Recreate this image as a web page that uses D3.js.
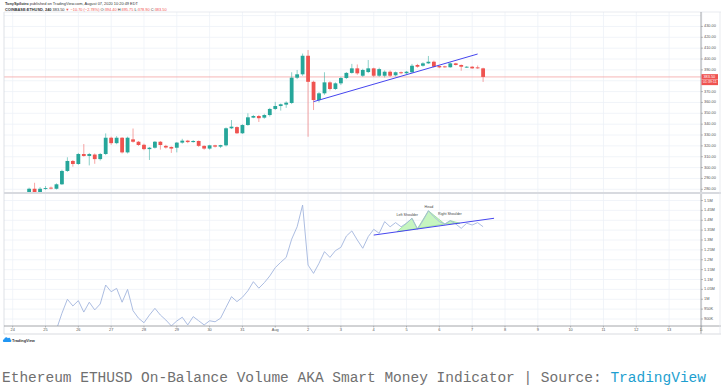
<!DOCTYPE html>
<html>
<head>
<meta charset="utf-8">
<script src="https://cdn.jsdelivr.net/npm/d3@7"></script>
<style>
body { margin: 0; background: #fff; }
svg { display: block; font-family: "Liberation Sans", Arial, sans-serif; }
</style>
</head>
<body>
<div id="chart"></div>
<script>
// 4h candles, COINBASE:ETHUSD, first bar Jul 24 12:00
var opens  = [277.5,280.5,277.5,280.5,281.5,280.5,284.6,296.9,306.1,303.3,312.5,310.7,312.0,307.8,312.5,327.5,322.5,327.5,314.0,326.0,
              323.8,321.0,317.0,318.3,323.8,320.0,319.0,318.3,323.0,324.8,323.5,324.5,320.0,317.5,320.5,319.3,320.5,336.2,337.3,331.6,
              339.2,346.0,347.5,346.0,348.4,354.0,356.7,358.0,359.5,382.8,385.9,403.0,379.0,362.2,368.4,378.5,372.4,377.6,382.5,387.2,
              391.4,384.6,388.0,391.4,384.6,384.6,388.3,385.0,387.8,386.9,387.8,394.5,393.8,396.0,397.5,393.5,393.2,392.4,396.0,394.5,
              392.4,392.9,392.3,391.4];
var highs  = [281.5,286.0,282.0,283.0,282.5,285.5,298.0,309.5,307.0,313.5,321.7,313.5,313.0,313.5,331.5,328.5,329.0,328.0,328.5,336.0,
              324.5,322.0,319.0,324.5,324.5,321.0,319.5,323.5,326.5,325.5,325.3,325.0,320.5,321.0,321.0,321.0,337.0,343.8,338.0,340.0,
              350.0,348.5,348.5,349.5,355.0,360.5,359.0,361.0,387.8,389.9,405.0,408.3,380.0,369.5,387.8,379.5,378.5,383.5,388.0,395.5,
              395.0,391.0,399.1,392.0,392.0,389.5,389.5,388.5,388.5,389.0,395.5,395.5,397.0,402.8,398.5,394.0,393.8,396.8,396.5,395.0,
              393.5,393.5,394.0,392.0];
var lows   = [276.5,277.0,277.0,279.5,280.0,279.8,284.0,296.0,300.8,302.5,310.0,302.0,303.5,306.5,311.5,321.0,321.5,313.0,313.0,323.0,
              320.0,316.0,307.0,317.5,316.5,317.5,313.5,314.0,322.0,322.5,323.0,319.0,316.5,316.5,318.5,318.0,319.5,335.5,331.0,331.0,
              338.5,345.5,342.0,345.0,347.0,353.0,352.5,355.0,358.5,381.5,384.5,328.4,353.0,360.0,367.0,371.0,371.5,376.0,381.5,386.5,
              385.5,383.5,387.0,383.5,383.5,383.0,383.5,384.0,386.0,386.0,387.0,392.0,393.0,395.5,392.0,391.5,392.0,392.0,394.0,389.2,
              391.8,391.0,391.0,378.9];
var closes = [280.5,277.5,280.5,281.2,281.0,284.6,296.9,306.1,303.3,312.5,310.7,312.5,307.8,312.5,327.5,322.5,327.5,314.0,327.5,323.8,
              320.8,317.0,318.3,323.8,320.8,318.5,317.5,323.0,324.8,323.5,324.5,320.0,317.5,320.5,319.3,320.7,336.2,337.7,331.6,339.2,
              346.3,347.5,345.5,348.4,354.0,356.7,358.3,359.8,382.8,385.9,403.0,379.0,362.2,368.4,378.5,372.4,377.6,382.5,387.2,391.4,
              386.8,389.9,391.4,384.6,390.7,388.3,384.6,387.8,386.9,388.3,393.8,392.9,396.0,397.5,392.9,392.3,392.6,396.0,394.5,392.9,
              392.9,391.4,391.4,383.5];
// On-Balance Volume, thousands
var obv    = [800,760,790,805,780,847,929,1000,966,993,935,985,946,976,1072,1038,1055,985,1050,942,
              904,881,920,954,920,895,865,890,909,870,912,891,870,891,886,904,959,1013,988,1010,
              1043,1089,1056,1084,1118,1160,1187,1212,1304,1367,1477,1173,1131,1182,1241,1212,1246,1263,1320,1346,
              1300,1258,1317,1354,1334,1393,1367,1388,1367,1385,1410,1354,1398,1448,1418,1393,1381,1398,1381,1359,
              1385,1376,1388,1367];

var dayLabels  = ["24","25","26","27","28","29","30","31","Aug","2","3","4","5","6","7","8","9","10","11","12","13","14"];
var priceTicks = [280,290,300,310,320,330,340,350,360,370,390,400,410,420,430];
var obvTicks   = [900,950,1000,1050,1100,1150,1200,1250,1300,1350,1400,1450,1500];
var lastPrice  = 383.5;

// drawings
var priceTrend = [[Date.UTC(2020,7,2,4), 360.7], [Date.UTC(2020,7,7,4), 404.6]];
var obvTrend   = [[Date.UTC(2020,7,4,0), 1325], [Date.UTC(2020,7,7,16), 1410]];
var hsPoints   = [[Date.UTC(2020,7,4,17), 1342], [Date.UTC(2020,7,5,4), 1410], [Date.UTC(2020,7,5,8), 1358],
                  [Date.UTC(2020,7,5,16), 1448], [Date.UTC(2020,7,6,4), 1381], [Date.UTC(2020,7,6,8), 1398],
                  [Date.UTC(2020,7,6,15), 1385]];
var hsLabels   = [["Left Shoulder", Date.UTC(2020,7,5,0,30), 1425], ["Head", Date.UTC(2020,7,5,16,20), 1466],
                  ["Right Shoulder", Date.UTC(2020,7,6,7,45), 1432]];

var W = 721, H = 389;
var L = 4, R = 701, T = 12, SEP = 193, B = 326, AB = 334;

var firstBar = Date.UTC(2020, 6, 24, 12);
var bars = opens.map(function(d, i){
    return {t: new Date(firstBar + i*4*3600e3), o: d, h: highs[i], l: lows[i], c: closes[i], v: obv[i]*1000};
});
var days = dayLabels.map(function(d, i){ return new Date(Date.UTC(2020, 6, 24 + i)); });

var x = d3.scaleUtc()
    .domain([Date.UTC(2020,6,24), Date.UTC(2020,7,14)])
    .range([12.7, 701.9]);
var yP = d3.scaleLinear().domain([280, 420]).range([189.3, 37.3]);
var yV = d3.scaleLinear().domain([900000, 1500000]).range([319, 200.5]);

var svg = d3.select("#chart").append("svg")
    .attr("width", W)
    .attr("height", H);

svg.append("rect").attr("width", W).attr("height", H).attr("fill", "#fff");

var defs = svg.append("defs");
defs.append("clipPath").attr("id", "clipTop").append("rect")
    .attr("x", L).attr("y", T).attr("width", R - L).attr("height", SEP - T);
defs.append("clipPath").attr("id", "clipBot").append("rect")
    .attr("x", L).attr("y", SEP + 1).attr("width", R - L).attr("height", B - SEP - 1);
defs.append("clipPath").attr("id", "clipAxis").append("rect")
    .attr("x", L).attr("y", B).attr("width", R - L + 1.5).attr("height", AB - B);

// header
var head = svg.append("g").attr("font-size", 3.9).attr("fill", "#333");
var h1 = head.append("text").attr("x", 5).attr("y", 5);
h1.append("tspan").attr("font-weight", "bold").text("TonySpilotro");
h1.append("tspan").text(" published on TradingView.com, August 07, 2020 10:20:49 EDT");
var h2 = head.append("text").attr("x", 5).attr("y", 10.5);
h2.append("tspan").attr("font-weight", "bold").text("COINBASE:ETHUSD, 240");
h2.append("tspan").text("  383.50 ");
h2.append("tspan").attr("fill", "#ef5350").text("\u25BC \u221210.70 (\u22122.78%) ");
h2.append("tspan").text("O:");
h2.append("tspan").attr("fill", "#ef5350").text("394.40 ");
h2.append("tspan").text("H:");
h2.append("tspan").attr("fill", "#ef5350").text("395.75 ");
h2.append("tspan").text("L:");
h2.append("tspan").attr("fill", "#ef5350").text("378.90 ");
h2.append("tspan").text("C:");
h2.append("tspan").attr("fill", "#ef5350").text("383.50");

// grid
svg.append("g").selectAll("line")
    .data(days)
    .join("line")
    .attr("x1", function(d){ return x(d); })
    .attr("x2", function(d){ return x(d); })
    .attr("y1", T).attr("y2", B)
    .attr("stroke", "#eef1f7").attr("stroke-width", 0.8);

svg.append("g").attr("clip-path", "url(#clipTop)").selectAll("line")
    .data(d3.range(270, 450, 10))
    .join("line")
    .attr("x1", L).attr("x2", R)
    .attr("y1", function(d){ return yP(d); })
    .attr("y2", function(d){ return yP(d); })
    .attr("stroke", "#eef1f7").attr("stroke-width", 0.8);

svg.append("g").attr("clip-path", "url(#clipBot)").selectAll("line")
    .data(obvTicks)
    .join("line")
    .attr("x1", L).attr("x2", R)
    .attr("y1", function(d){ return yV(d*1000); })
    .attr("y2", function(d){ return yV(d*1000); })
    .attr("stroke", "#eef1f7").attr("stroke-width", 0.8);

// last price line
svg.append("line")
    .attr("x1", L).attr("x2", R)
    .attr("y1", yP(lastPrice)).attr("y2", yP(lastPrice))
    .attr("stroke", "#f4a3a3").attr("stroke-width", 0.8);

// candles
var up = "#26a69a", down = "#ef5350";
var bw = 3.8;
var candles = svg.append("g").attr("clip-path", "url(#clipTop)");
candles.selectAll("line.wick")
    .data(bars)
    .join("line")
    .attr("class", "wick")
    .attr("x1", function(d){ return x(d.t); })
    .attr("x2", function(d){ return x(d.t); })
    .attr("y1", function(d){ return yP(d.h); })
    .attr("y2", function(d){ return yP(d.l); })
    .attr("stroke", function(d){ return d.c >= d.o ? up : down; })
    .attr("stroke-opacity", 0.75)
    .attr("stroke-width", 0.7);
candles.selectAll("rect.body")
    .data(bars)
    .join("rect")
    .attr("class", "body")
    .attr("x", function(d){ return x(d.t) - bw/2; })
    .attr("y", function(d){ return yP(Math.max(d.o, d.c)); })
    .attr("width", bw)
    .attr("height", function(d){ return Math.max(0.9, Math.abs(yP(d.o) - yP(d.c))); })
    .attr("fill", function(d){ return d.c >= d.o ? up : down; });

candles.append("line")
    .attr("x1", x(priceTrend[0][0])).attr("y1", yP(priceTrend[0][1]))
    .attr("x2", x(priceTrend[1][0])).attr("y2", yP(priceTrend[1][1]))
    .attr("stroke", "#4545ef").attr("stroke-width", 1);

// OBV pane
var bot = svg.append("g").attr("clip-path", "url(#clipBot)");
var hsLine = d3.line()
    .x(function(d){ return x(d[0]); })
    .y(function(d){ return yV(d[1]*1000); });
[[0,1,2],[2,3,4],[4,5,6]].forEach(function(tri){
    bot.append("path")
        .attr("d", hsLine(tri.map(function(k){ return hsPoints[k]; })) + "Z")
        .attr("fill", "#c6f5c0")
        .attr("stroke", "#7fd67a")
        .attr("stroke-width", 0.6);
});

bot.append("path")
    .datum(bars)
    .attr("d", d3.line()
        .x(function(d){ return x(d.t); })
        .y(function(d){ return yV(d.v); }))
    .attr("fill", "none")
    .attr("stroke", "#a3b6de")
    .attr("stroke-width", 0.9);

bot.append("line")
    .attr("x1", x(obvTrend[0][0])).attr("y1", yV(obvTrend[0][1]*1000))
    .attr("x2", x(obvTrend[1][0])).attr("y2", yV(obvTrend[1][1]*1000))
    .attr("stroke", "#4545ef").attr("stroke-width", 1);

bot.selectAll("text.hs")
    .data(hsLabels)
    .join("text")
    .attr("class", "hs")
    .attr("x", function(d){ return x(d[1]); })
    .attr("y", function(d){ return yV(d[2]*1000); })
    .attr("text-anchor", "middle")
    .attr("dominant-baseline", "middle")
    .attr("font-size", 3.6)
    .attr("fill", "#444")
    .text(function(d){ return d[0]; });

// frame
svg.append("line").attr("x1", L).attr("x2", L).attr("y1", T).attr("y2", AB)
    .attr("stroke", "#d6d9df").attr("stroke-width", 0.8);
svg.append("line").attr("x1", L).attr("x2", W).attr("y1", T).attr("y2", T)
    .attr("stroke", "#e3e6ec").attr("stroke-width", 0.8);
svg.append("line").attr("x1", R).attr("x2", R).attr("y1", T).attr("y2", AB)
    .attr("stroke", "#8d8f94").attr("stroke-width", 0.8);
svg.append("line").attr("x1", L).attr("x2", W).attr("y1", SEP).attr("y2", SEP)
    .attr("stroke", "#d8dadf").attr("stroke-width", 2);
svg.append("line").attr("x1", L).attr("x2", W).attr("y1", B).attr("y2", B)
    .attr("stroke", "#8d8f94").attr("stroke-width", 0.8);
svg.append("line").attr("x1", L).attr("x2", W).attr("y1", AB).attr("y2", AB)
    .attr("stroke", "#cfd2d8").attr("stroke-width", 0.8);
svg.append("line").attr("x1", 720).attr("x2", 720).attr("y1", T).attr("y2", AB)
    .attr("stroke", "#e3e6ec").attr("stroke-width", 0.8);

// price axis
var axisText = svg.append("g").attr("font-size", 3.9).attr("fill", "#555");
var shownPrices = priceTicks.filter(function(d){ return yP(d) > T + 2 && yP(d) < SEP - 2; });
axisText.selectAll("text.p")
    .data(shownPrices)
    .join("text")
    .attr("class", "p")
    .attr("x", 704)
    .attr("y", function(d){ return yP(d); })
    .attr("dominant-baseline", "middle")
    .text(function(d){ return d3.format(".2f")(d); });
axisText.selectAll("line.pt")
    .data(shownPrices)
    .join("line")
    .attr("class", "pt")
    .attr("x1", R).attr("x2", R + 2)
    .attr("y1", function(d){ return yP(d); })
    .attr("y2", function(d){ return yP(d); })
    .attr("stroke", "#8d8f94").attr("stroke-width", 0.6);

var fmtV = function(v){ return v >= 1000 ? d3.format("~g")(v/1000) + "M" : v + "K"; };
axisText.selectAll("text.v")
    .data(obvTicks)
    .join("text")
    .attr("class", "v")
    .attr("x", 704)
    .attr("y", function(d){ return yV(d*1000); })
    .attr("dominant-baseline", "middle")
    .text(fmtV);
axisText.selectAll("line.vt")
    .data(obvTicks)
    .join("line")
    .attr("class", "vt")
    .attr("x1", R).attr("x2", R + 2)
    .attr("y1", function(d){ return yV(d*1000); })
    .attr("y2", function(d){ return yV(d*1000); })
    .attr("stroke", "#8d8f94").attr("stroke-width", 0.6);

// last price tags
var py = yP(lastPrice);
svg.append("rect").attr("x", R + 0.5).attr("y", py - 2.8).attr("width", 16.5).attr("height", 5.4).attr("fill", "#ef5350");
svg.append("rect").attr("x", R + 0.5).attr("y", py + 2.8).attr("width", 16.5).attr("height", 5.4).attr("fill", "#ef5350");
svg.append("text").attr("x", 703.5).attr("y", py).attr("dominant-baseline", "middle")
    .attr("font-size", 3.8).attr("fill", "#fff").text(d3.format(".2f")(lastPrice));
svg.append("text").attr("x", 703).attr("y", py + 5.6).attr("dominant-baseline", "middle")
    .attr("font-size", 3.6).attr("fill", "#fff").text("01:39:11");

// time axis
var tAxis = svg.append("g").attr("clip-path", "url(#clipAxis)");
tAxis.selectAll("text")
    .data(days)
    .join("text")
    .attr("x", function(d){ return x(d); })
    .attr("y", 330.3)
    .attr("text-anchor", "middle")
    .attr("dominant-baseline", "middle")
    .attr("font-size", 3.9)
    .attr("fill", "#555")
    .text(function(d, i){ return dayLabels[i]; });
tAxis.selectAll("line")
    .data(days)
    .join("line")
    .attr("x1", function(d){ return x(d); })
    .attr("x2", function(d){ return x(d); })
    .attr("y1", B).attr("y2", B + 1.5)
    .attr("stroke", "#8d8f94").attr("stroke-width", 0.6);

// TradingView logo
var logo = svg.append("g").attr("transform", "translate(3,336)");
logo.append("path")
    .attr("d", "M1,6 C-0.5,6 -0.5,3.2 1.3,3.2 C1.5,1.4 3.8,0.6 4.8,2.2 C5.6,1.2 7.6,1.6 7.4,3.4 C8.8,3.6 8.8,6 7.2,6 Z")
    .attr("fill", "#2196f3");
logo.append("text").attr("x", 9).attr("y", 5.6)
    .attr("font-size", 3.9).attr("fill", "#333").attr("font-weight", "bold").text("TradingView");

// caption
var cap = svg.append("text")
    .attr("x", 2)
    .attr("y", 382)
    .attr("font-family", "'Liberation Mono', 'DejaVu Sans Mono', monospace")
    .attr("font-size", 14.5)
    .attr("textLength", 704)
    .attr("lengthAdjust", "spacing")
    .attr("fill", "#707070");
cap.append("tspan").text("Ethereum ETHUSD On-Balance Volume AKA Smart Money Indicator | Source: ");
cap.append("tspan").attr("fill", "#1e9fd0").text("TradingView");
</script>
</body>
</html>
